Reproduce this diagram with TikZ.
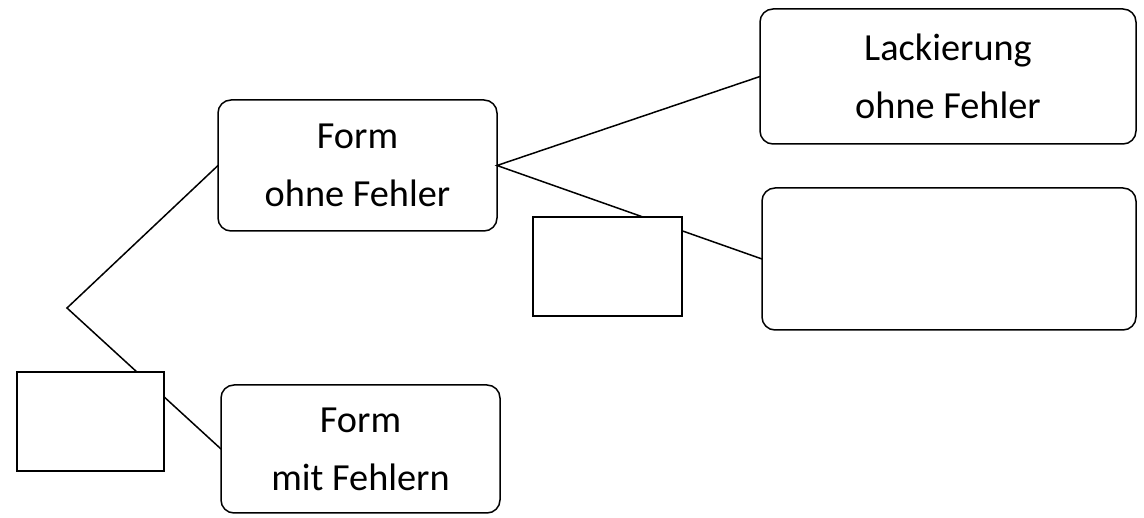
\documentclass[tikz,border=0pt]{standalone}
\usepackage{fontspec}
\setmainfont{Carlito}
\begin{document}
\begin{tikzpicture}[x=1pt,y=-1pt,
  every node/.style={inner sep=0pt, outer sep=0pt},
  rbox/.style={draw=black, line width=1.5pt, rounded corners=13pt, fill=white,
    align=center, font=\fontsize{38.3pt}{58pt}\selectfont},
  sbox/.style={draw=black, line width=1.5pt, fill=white},
  conn/.style={draw=black, line width=1.5pt}]
\useasboundingbox[fill=white] (0,0) rectangle (1144,518);
\node[rbox, minimum width=279pt, minimum height=131pt] (fo) at (357.5,165.5) {Form\\ohne Fehler};
\node[rbox, minimum width=279pt, minimum height=128pt] (fm) at (360.5,449) {Form\\mit Fehlern};
\node[rbox, minimum width=376pt, minimum height=135pt] (lo) at (948,76.5) {Lackierung\\ohne Fehler};
\node[rbox, minimum width=374pt, minimum height=142pt] (lm) at (949,259) {};
\coordinate (root) at (67,308);
\draw[conn] (fo.west) -- (root) -- (fm.west);
\draw[conn] (lo.west) -- (fo.east) -- (lm.west);
\node[sbox, minimum width=147pt, minimum height=99pt] (p1) at (90.5,421.5) {};
\node[sbox, minimum width=149pt, minimum height=99pt] (p2) at (607.5,266.5) {};
\end{tikzpicture}
\end{document}
